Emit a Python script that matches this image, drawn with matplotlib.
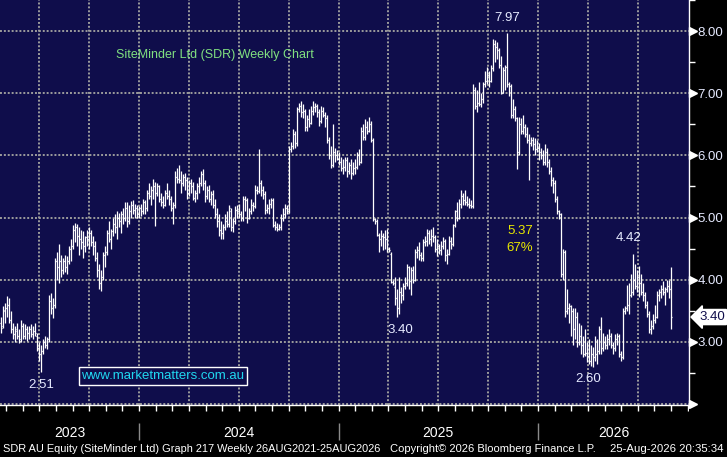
import matplotlib
matplotlib.use("Agg")
import matplotlib.pyplot as plt
import matplotlib.transforms as mtransforms
import numpy as np

plt.rcParams["font.family"] = ["Liberation Sans", "DejaVu Sans"]

# Weekly OHLC for SDR, oldest bar first
opens = [
    3.30, 3.25, 3.50, 3.55, 3.60, 3.35, 3.20, 3.12, 3.18, 3.10,
    3.05, 3.25, 3.10, 3.20, 3.15, 3.20, 3.12, 3.18, 3.10, 2.90,
    2.80, 2.85, 3.00, 2.95, 3.05, 3.65, 3.55, 3.60, 4.30, 4.20,
    4.30, 4.15, 4.30, 4.20, 4.30, 4.50, 4.55, 4.80, 4.85, 4.70,
    4.65, 4.60, 4.55, 4.68, 4.65, 4.75, 4.60, 4.55, 4.35, 4.15,
    3.95, 4.05, 4.40, 4.45, 4.75, 4.65, 4.78, 4.90, 4.85, 5.00,
    4.95, 5.05, 5.00, 5.15, 4.95, 5.10, 5.20, 5.12, 5.15, 5.05,
    5.15, 5.10, 5.25, 5.15, 5.40, 5.35, 5.45, 5.50, 5.40, 5.50,
    5.30, 5.25, 5.20, 5.40, 5.35, 5.30, 5.15, 5.20, 5.65, 5.62,
    5.60, 5.55, 5.65, 5.60, 5.40, 5.55, 5.50, 5.32, 5.40, 5.50,
    5.55, 5.70, 5.55, 5.35, 5.45, 5.30, 5.38, 5.20, 5.05, 4.95,
    4.80, 4.75, 4.85, 4.95, 4.90, 5.10, 4.85, 4.95, 5.12, 5.10,
    5.05, 5.00, 5.30, 5.28, 5.00, 5.10, 5.20, 5.18, 5.45, 5.42,
    5.55, 5.45, 5.38, 5.12, 5.15, 5.22, 5.28, 4.88, 4.85, 4.82,
    4.85, 5.00, 5.05, 5.15, 5.10, 6.10, 6.15, 6.35, 6.20, 6.75,
    6.80, 6.70, 6.72, 6.45, 6.58, 6.52, 6.72, 6.78, 6.80, 6.70,
    6.55, 6.72, 6.65, 6.60, 6.25, 6.00, 5.85, 6.05, 6.00, 5.95,
    5.90, 5.80, 5.82, 5.92, 5.75, 5.85, 5.72, 5.80, 5.82, 6.00,
    5.90, 6.40, 6.30, 6.45, 6.40, 6.50, 6.25, 4.98, 4.95, 4.72,
    4.65, 4.70, 4.68, 4.65, 4.50, 4.42, 3.97, 3.88, 3.70, 3.55,
    3.80, 3.75, 3.90, 3.95, 4.20, 3.98, 4.15, 4.00, 4.45, 4.48,
    4.40, 4.35, 4.60, 4.62, 4.75, 4.65, 4.70, 4.68, 4.50, 4.55,
    4.48, 4.55, 4.62, 4.40, 4.42, 4.62, 4.58, 4.88, 5.10, 5.00,
    5.22, 5.35, 5.28, 5.25, 5.22, 5.20, 5.18, 7.05, 6.80, 6.85,
    6.82, 6.90, 7.15, 7.20, 7.30, 7.20, 7.40, 7.80, 7.75, 7.70,
    7.45, 7.00, 7.38, 7.42, 7.15, 7.12, 6.65, 6.75, 6.60, 6.05,
    6.50, 6.40, 6.45, 6.35, 6.25, 6.20, 6.25, 6.18, 6.10, 6.12,
    6.05, 6.00, 5.90, 6.05, 5.90, 5.75, 5.60, 5.55, 5.30, 5.10,
    5.05, 4.10, 4.45, 3.50, 3.55, 3.58, 3.50, 3.20, 3.40, 3.00,
    3.10, 2.95, 2.80, 2.82, 2.78, 2.70, 2.80, 2.75, 2.80, 2.85,
    3.20, 2.90, 3.00, 2.95, 3.05, 3.10, 2.95, 2.90, 3.05, 3.10,
    2.80, 2.75, 3.50, 3.55, 3.60, 3.75, 3.80, 4.00, 3.90, 4.05,
    3.95, 3.80, 3.75, 3.60, 3.45, 3.20, 3.25, 3.35, 3.40, 3.75,
    3.80, 3.85, 3.80, 3.85, 3.90, 3.85,
]
highs = [
    3.40, 3.58, 3.62, 3.74, 3.70, 3.50, 3.30, 3.25, 3.30, 3.20,
    3.35, 3.30, 3.28, 3.25, 3.25, 3.28, 3.25, 3.30, 3.15, 3.00,
    2.95, 3.05, 3.10, 3.08, 3.75, 3.78, 3.70, 4.35, 4.45, 4.58,
    4.40, 4.35, 4.40, 4.38, 4.55, 4.65, 4.88, 4.92, 4.90, 4.85,
    4.80, 4.78, 4.70, 4.80, 4.85, 4.80, 4.70, 4.62, 4.45, 4.25,
    4.15, 4.45, 4.55, 4.80, 4.95, 4.82, 5.00, 5.05, 5.10, 5.08,
    5.10, 5.15, 5.25, 5.25, 5.20, 5.27, 5.28, 5.22, 5.20, 5.18,
    5.22, 5.30, 5.28, 5.45, 5.55, 5.50, 5.62, 5.58, 5.55, 5.52,
    5.40, 5.35, 5.45, 5.55, 5.45, 5.35, 5.25, 5.75, 5.80, 5.85,
    5.75, 5.70, 5.72, 5.65, 5.60, 5.62, 5.58, 5.45, 5.55, 5.65,
    5.75, 5.78, 5.60, 5.50, 5.52, 5.42, 5.45, 5.30, 5.15, 5.05,
    4.95, 4.90, 5.05, 5.10, 5.20, 5.15, 5.00, 5.18, 5.20, 5.22,
    5.10, 5.35, 5.35, 5.32, 5.15, 5.30, 5.25, 5.52, 5.50, 6.10,
    5.60, 5.50, 5.42, 5.22, 5.30, 5.32, 5.32, 4.95, 4.92, 4.90,
    5.05, 5.15, 5.22, 5.20, 6.15, 6.22, 6.42, 6.40, 6.78, 6.85,
    6.88, 6.82, 6.75, 6.65, 6.75, 6.80, 6.88, 6.85, 6.82, 6.75,
    6.80, 6.78, 6.70, 6.65, 6.30, 6.15, 6.50, 6.12, 6.08, 6.05,
    5.98, 5.95, 5.98, 5.97, 5.90, 5.95, 5.90, 5.95, 6.05, 6.10,
    6.45, 6.50, 6.58, 6.55, 6.62, 6.55, 6.28, 5.00, 4.98, 4.75,
    4.80, 4.75, 4.80, 4.82, 4.52, 4.45, 4.00, 4.05, 3.85, 4.05,
    3.88, 3.95, 4.05, 4.25, 4.22, 4.20, 4.22, 4.50, 4.55, 4.60,
    4.45, 4.65, 4.70, 4.82, 4.80, 4.82, 4.85, 4.72, 4.65, 4.58,
    4.62, 4.68, 4.65, 4.50, 4.70, 4.68, 4.90, 5.12, 5.25, 5.30,
    5.45, 5.40, 5.45, 5.35, 5.32, 5.28, 7.15, 7.10, 7.05, 7.18,
    7.00, 7.18, 7.35, 7.42, 7.35, 7.45, 7.88, 7.85, 7.82, 7.72,
    7.60, 7.42, 7.45, 7.97, 7.18, 7.15, 6.90, 6.80, 6.62, 6.62,
    6.60, 6.65, 6.50, 6.45, 6.35, 6.30, 6.30, 6.28, 6.25, 6.20,
    6.12, 6.08, 6.18, 6.12, 5.95, 5.82, 5.65, 5.60, 5.35, 5.12,
    5.08, 4.50, 4.48, 3.85, 3.62, 3.60, 3.55, 3.55, 3.48, 3.30,
    3.27, 3.10, 3.20, 3.00, 3.05, 2.95, 2.92, 3.10, 3.05, 3.25,
    3.40, 3.15, 3.10, 3.12, 3.20, 3.15, 3.00, 3.12, 3.15, 3.12,
    2.85, 3.55, 3.58, 3.92, 3.95, 4.10, 4.42, 4.25, 4.15, 4.22,
    4.10, 3.95, 3.80, 3.65, 3.50, 3.35, 3.45, 3.60, 3.82, 3.85,
    3.92, 3.98, 3.88, 4.00, 4.00, 4.20,
]
lows = [
    3.15, 3.22, 3.30, 3.40, 3.30, 3.15, 3.05, 3.00, 3.05, 2.98,
    3.00, 3.05, 3.05, 3.02, 3.05, 3.08, 3.05, 3.10, 2.85, 2.70,
    2.51, 2.80, 2.90, 2.88, 3.00, 3.45, 3.38, 3.55, 4.00, 3.95,
    4.05, 4.10, 4.12, 4.10, 4.25, 4.30, 4.50, 4.60, 4.55, 4.40,
    4.50, 4.35, 4.45, 4.55, 4.50, 4.55, 4.40, 4.30, 4.05, 3.85,
    3.82, 4.00, 4.20, 4.40, 4.60, 4.50, 4.70, 4.75, 4.65, 4.85,
    4.75, 4.90, 4.95, 4.85, 4.90, 5.00, 5.05, 5.00, 5.00, 5.00,
    5.02, 5.05, 5.05, 5.10, 5.30, 5.20, 5.30, 4.87, 5.35, 5.25,
    5.18, 5.15, 5.18, 5.30, 5.20, 5.10, 4.90, 5.15, 5.55, 5.55,
    5.40, 5.50, 5.45, 5.30, 5.35, 5.40, 5.28, 5.25, 5.30, 5.40,
    5.50, 5.45, 5.25, 5.30, 5.25, 5.20, 5.15, 5.00, 4.85, 4.70,
    4.65, 4.65, 4.80, 4.85, 4.85, 4.78, 4.76, 4.90, 5.00, 5.00,
    4.95, 4.95, 5.10, 4.92, 4.98, 5.05, 5.10, 5.15, 5.38, 5.40,
    5.35, 5.30, 5.05, 5.08, 5.05, 5.15, 4.85, 4.80, 4.78, 4.80,
    4.80, 4.95, 5.00, 5.05, 5.08, 6.05, 6.10, 6.12, 6.15, 6.70,
    6.62, 6.60, 6.40, 6.40, 6.45, 6.50, 6.65, 6.70, 6.62, 6.48,
    6.52, 6.62, 6.45, 6.20, 5.95, 5.80, 5.82, 5.90, 5.92, 5.85,
    5.75, 5.70, 5.75, 5.65, 5.70, 5.62, 5.68, 5.70, 5.78, 5.85,
    5.88, 6.25, 6.25, 6.35, 6.38, 6.22, 4.95, 4.90, 4.70, 4.45,
    4.55, 4.48, 4.50, 4.45, 4.45, 3.95, 3.92, 3.60, 3.40, 3.45,
    3.62, 3.68, 3.85, 3.90, 3.85, 3.75, 3.95, 3.98, 4.35, 4.32,
    4.30, 4.30, 4.55, 4.55, 4.58, 4.55, 4.60, 4.45, 4.38, 4.42,
    4.40, 4.50, 4.30, 4.25, 4.40, 4.50, 4.55, 4.85, 4.95, 4.98,
    5.15, 5.20, 5.20, 5.18, 5.15, 5.15, 5.15, 6.75, 6.70, 6.80,
    6.78, 6.85, 7.10, 7.15, 7.10, 7.18, 7.35, 7.50, 7.55, 7.40,
    6.98, 7.00, 7.05, 7.10, 6.95, 6.60, 6.60, 6.55, 5.78, 6.00,
    6.35, 6.35, 6.30, 6.20, 5.60, 6.15, 6.08, 6.00, 6.05, 5.92,
    5.95, 5.85, 5.85, 5.82, 5.70, 5.50, 5.40, 5.25, 5.05, 4.98,
    4.05, 4.00, 3.40, 3.45, 3.30, 3.10, 2.95, 3.05, 2.92, 2.95,
    2.80, 2.75, 2.78, 2.68, 2.65, 2.62, 2.60, 2.70, 2.65, 2.80,
    2.80, 2.85, 2.88, 2.88, 2.95, 2.90, 2.80, 2.85, 2.95, 2.75,
    2.70, 2.72, 3.45, 3.50, 3.45, 3.72, 3.75, 3.85, 3.80, 3.72,
    3.75, 3.65, 3.55, 3.40, 3.15, 3.12, 3.20, 3.30, 3.38, 3.65,
    3.70, 3.75, 3.60, 3.80, 3.70, 3.20,
]
closes = [
    3.22, 3.52, 3.55, 3.60, 3.35, 3.20, 3.12, 3.20, 3.10, 3.02,
    3.25, 3.10, 3.20, 3.15, 3.20, 3.12, 3.18, 3.15, 2.90, 2.80,
    2.85, 3.00, 2.95, 3.05, 3.65, 3.55, 3.60, 4.30, 4.20, 4.30,
    4.15, 4.30, 4.20, 4.30, 4.50, 4.55, 4.80, 4.85, 4.70, 4.65,
    4.60, 4.55, 4.68, 4.65, 4.75, 4.60, 4.55, 4.35, 4.15, 3.95,
    4.05, 4.40, 4.45, 4.75, 4.65, 4.78, 4.90, 4.85, 5.00, 4.95,
    5.05, 5.00, 5.15, 4.95, 5.10, 5.20, 5.12, 5.15, 5.05, 5.15,
    5.10, 5.25, 5.15, 5.40, 5.35, 5.45, 5.50, 5.40, 5.50, 5.30,
    5.25, 5.20, 5.40, 5.35, 5.30, 5.15, 5.20, 5.65, 5.62, 5.60,
    5.55, 5.65, 5.60, 5.40, 5.55, 5.50, 5.32, 5.40, 5.50, 5.55,
    5.70, 5.55, 5.35, 5.45, 5.30, 5.38, 5.20, 5.05, 4.95, 4.80,
    4.75, 4.85, 4.95, 4.90, 5.15, 4.85, 4.95, 5.12, 5.10, 5.05,
    5.00, 5.30, 5.28, 5.00, 5.10, 5.20, 5.18, 5.45, 5.42, 5.55,
    5.45, 5.38, 5.12, 5.15, 5.22, 5.28, 4.88, 4.85, 4.82, 4.85,
    5.00, 5.05, 5.15, 5.10, 6.10, 6.15, 6.35, 6.20, 6.75, 6.80,
    6.70, 6.72, 6.45, 6.58, 6.52, 6.72, 6.78, 6.80, 6.70, 6.55,
    6.72, 6.65, 6.60, 6.25, 6.00, 5.85, 6.05, 6.00, 5.95, 5.90,
    5.80, 5.82, 5.92, 5.75, 5.85, 5.72, 5.80, 5.82, 6.00, 5.90,
    6.40, 6.30, 6.45, 6.40, 6.50, 6.25, 4.98, 4.95, 4.72, 4.65,
    4.70, 4.68, 4.65, 4.50, 4.48, 3.97, 3.95, 3.70, 3.55, 3.80,
    3.75, 3.90, 3.95, 4.20, 3.98, 4.15, 4.00, 4.45, 4.48, 4.40,
    4.35, 4.60, 4.62, 4.75, 4.65, 4.70, 4.68, 4.50, 4.55, 4.48,
    4.55, 4.62, 4.40, 4.42, 4.62, 4.58, 4.88, 5.10, 5.00, 5.22,
    5.35, 5.28, 5.25, 5.22, 5.20, 5.18, 7.05, 6.80, 6.85, 6.82,
    6.90, 7.15, 7.20, 7.30, 7.20, 7.40, 7.80, 7.75, 7.70, 7.45,
    7.00, 7.38, 7.42, 7.15, 7.12, 6.65, 6.75, 6.60, 6.05, 6.50,
    6.40, 6.45, 6.35, 6.25, 6.20, 6.25, 6.18, 6.10, 6.12, 6.05,
    6.00, 5.90, 6.05, 5.90, 5.75, 5.60, 5.55, 5.30, 5.10, 5.05,
    4.10, 4.45, 3.50, 3.55, 3.58, 3.50, 3.20, 3.40, 3.00, 3.10,
    2.95, 2.80, 2.82, 2.78, 2.70, 2.80, 2.75, 2.80, 2.85, 3.20,
    2.90, 3.00, 2.95, 3.05, 3.10, 2.95, 2.90, 3.05, 3.10, 2.80,
    2.75, 3.50, 3.55, 3.60, 3.75, 3.80, 4.00, 3.90, 4.05, 3.95,
    3.80, 3.75, 3.60, 3.45, 3.20, 3.25, 3.35, 3.40, 3.75, 3.80,
    3.85, 3.80, 3.85, 3.90, 3.85, 3.40,
]

year_labels = ["2023", "2024", "2025", "2026"]
price_ticks = [3, 4, 5, 6, 7, 8]
last_price = 3.40

# (bar index, price, label) for the marked highs and lows
high_marks = [(253, 7.97, "7.97"), (314, 4.42, "4.42")]
low_marks = [(20, 2.51, "2.51"), (199.5, 3.40, "3.40"), (293.5, 2.60, "2.60")]
fall_text = ["5.37", "67%"]

# layout of the time axis (in bar units, 1 bar = 2 px)
YEAR0 = 69.0          # first bar of 2024
YEAR_LEN = 99.75      # bars per calendar year on this chart
X_MAX = 344.0

NAVY = "#0f0d4b"
GRID = "#9c9c9c"
TXT = "#e6eaff"

W, H = 727, 457
fig = plt.figure(figsize=(W / 100, H / 100), dpi=100, facecolor="black")

ax = fig.add_axes([0, 1 - 405 / H, 689 / W, 405 / H], facecolor=NAVY)
ax.set_xlim(-0.5, X_MAX)
ax.set_ylim(1.985, 8.5)

# grid
for yv in range(2, 9):
    ax.axhline(yv, color=GRID, lw=1.4, ls=(0, (1, 1)), zorder=1)
grid_x = YEAR0 + np.arange(-2, 11) * YEAR_LEN / 4
for xv in grid_x:
    ax.axvline(xv, color=GRID, lw=1.4, ls=(0, (1, 1)), zorder=1)

# OHLC bars
x = np.arange(len(closes))
ax.vlines(x, lows, highs, color="white", lw=0.9, zorder=3)
ax.hlines(opens, x - 0.6, x, color="white", lw=0.9, zorder=3)
ax.hlines(closes, x, x + 0.6, color="white", lw=0.9, zorder=3)

# right price axis
for s in ["left", "top", "bottom"]:
    ax.spines[s].set_visible(False)
ax.spines["right"].set_color("white")
ax.spines["right"].set_linewidth(1.0)
ax.set_xticks([])
ax.yaxis.tick_right()
ax.set_yticks(price_ticks)
ax.set_yticklabels([f"{v:.2f}" for v in price_ticks], fontsize=9.5, color=TXT)
ax.tick_params(axis="y", which="major", length=0, pad=6.3)
ax.set_yticks(np.arange(2.5, 8.6, 1.0), minor=True)
ax.tick_params(axis="y", which="minor", length=4, width=1, color="white", direction="out")

base = mtransforms.blended_transform_factory(ax.transAxes, ax.transData)
tri = base + mtransforms.ScaledTranslation(4 / 100, 0, fig.dpi_scale_trans)
ax.plot([1] * 7, range(2, 9), ls="none", marker=">", ms=5.5, color="white",
        transform=tri, clip_on=False, zorder=5)

lp = base + mtransforms.ScaledTranslation(10 / 100, 0, fig.dpi_scale_trans)
ax.text(1.0, last_price, "3.40", transform=lp, fontsize=9.5, color="#0f0d4b",
        ha="left", va="center", clip_on=False, zorder=6,
        bbox=dict(boxstyle="larrow,pad=0.12", fc="white", ec="white"))

# labels inside the chart
ax.text(215 / 689, 1 - 55 / 405, "SiteMinder Ltd (SDR) Weekly Chart", transform=ax.transAxes,
        fontsize=9, color="#80e080", ha="center", va="center")
for xb, p, lab in high_marks:
    ax.annotate(lab, (xb, p), xytext=(0, 11), textcoords="offset points",
                ha="center", va="center", fontsize=9.5, color=TXT)
for xb, p, lab in low_marks:
    ax.annotate(lab, (xb, p), xytext=(0, -9), textcoords="offset points",
                ha="center", va="center", fontsize=9.5, color=TXT)
ax.text(520 / 689, 1 - 231 / 405, fall_text[0], transform=ax.transAxes,
        fontsize=9.5, color="#e8e800", ha="center", va="center")
ax.text(520 / 689, 1 - 248 / 405, fall_text[1], transform=ax.transAxes,
        fontsize=9.5, color="#e8e800", ha="center", va="center")
ax.text(163 / 689, 1 - 376 / 405, "www.marketmatters.com.au", transform=ax.transAxes,
        fontsize=9.5, color="#20d8f0", ha="center", va="center",
        bbox=dict(boxstyle="square,pad=0.2", fc=NAVY, ec="white", lw=1))

# time axis strip
ax2 = fig.add_axes([0, 1 - 445 / H, 689 / W, 40 / H], facecolor="black")
ax2.set_xlim(ax.get_xlim())
ax2.set_ylim(0, 1)
for s in ["left", "right", "bottom"]:
    ax2.spines[s].set_visible(False)
ax2.spines["top"].set_color("white")
ax2.spines["top"].set_linewidth(1.0)
ax2.set_yticks([])
month_x = YEAR0 + np.arange(-9, 36) * YEAR_LEN / 12
month_x = month_x[(month_x > 0) & (month_x < X_MAX)]
ax2.vlines(month_x, 1 - 6 / 40, 1, color="white", lw=1)
ax2.set_xticks([])

year_starts = YEAR0 + np.arange(3) * YEAR_LEN
ax2.vlines(year_starts, 5 / 40, 22 / 40, color="#8a8a8a", lw=1)
edges = np.concatenate([[-0.5], year_starts, [X_MAX]])
for lab, a, b in zip(year_labels, edges[:-1], edges[1:]):
    ax2.text((a + b) / 2, 12 / 40, lab, ha="center", va="center", fontsize=10, color="white")

# footer
fy = 1 - 449 / H
fig.text(3 / W, fy, "SDR AU Equity (SiteMinder Ltd) Graph 217 Weekly 26AUG2021-25AUG2026",
         fontsize=7.9, color="white", va="center", ha="left")
fig.text(390 / W, fy, "Copyright\u00a9 2026 Bloomberg Finance L.P.",
         fontsize=8.0, color="white", va="center", ha="left")
fig.text(724 / W, fy, "25-Aug-2026 20:35:34",
         fontsize=8.2, color="white", va="center", ha="right")

fig.savefig("out.png", dpi=100, facecolor="black")
